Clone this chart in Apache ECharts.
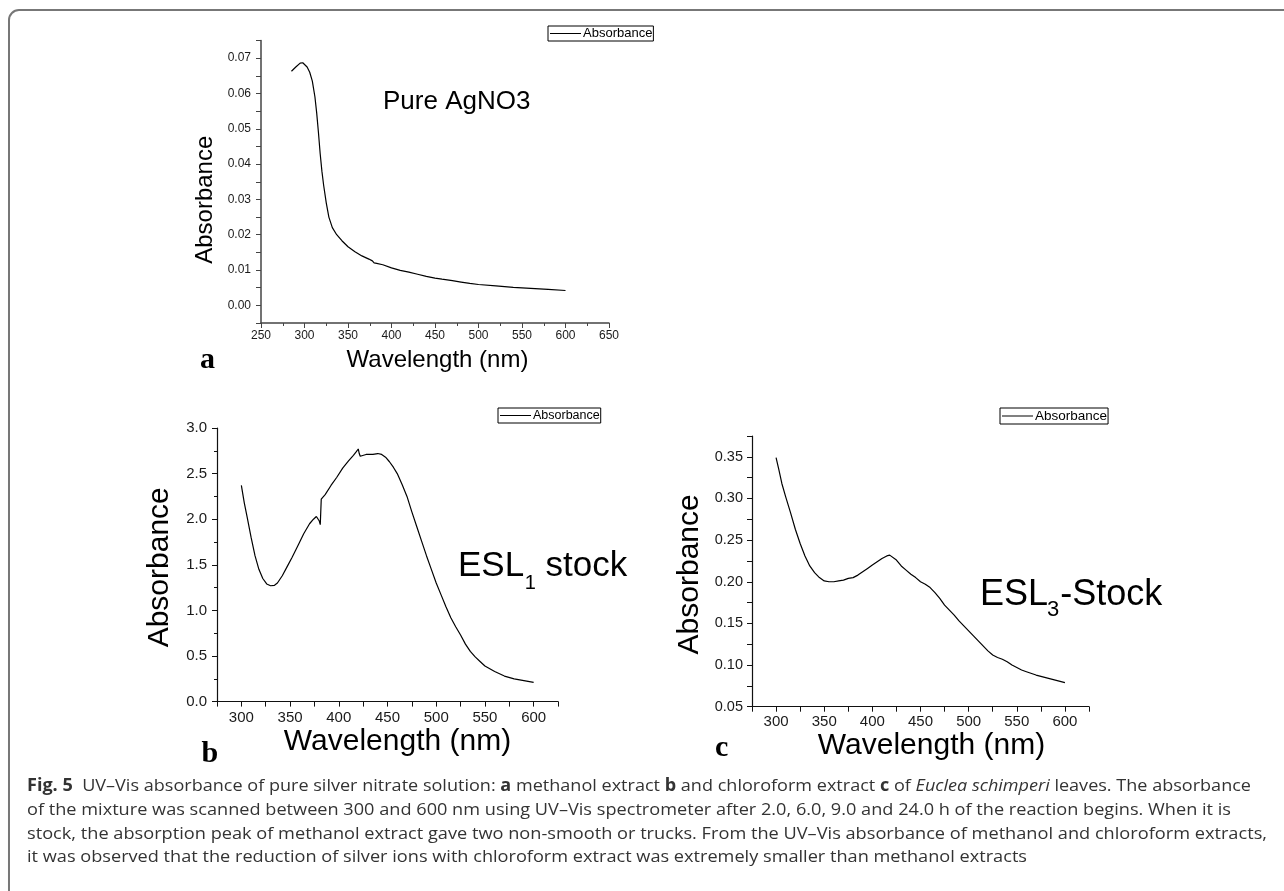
<!DOCTYPE html>
<html><head><meta charset="utf-8">
<script src="https://cdn.jsdelivr.net/npm/echarts@6/dist/echarts.min.js"></script>
<style>html,body{margin:0;padding:0;background:#fff}#c{width:1284px;height:891px}</style>
</head><body><div id="c"></div>
<script>
// ---------- DATA ----------
// Panel a: pure AgNO3
const wlA = [285,290,295,298,300,303,306,309,312,314,316,318,320,322,325,328,332,337,343,350,358,366,374,378,380,381,383,385,390,400,410,420,430,440,450,458,460,470,480,490,500,520,540,560,580,600];
const absA = [0.0663,0.0675,0.0686,0.0687,0.0684,0.0675,0.0660,0.0635,0.0590,0.0545,0.0490,0.0430,0.0380,0.0340,0.0290,0.0250,0.0220,0.0200,0.0183,0.0166,0.0152,0.0140,0.0131,0.0126,0.0120,0.0122,0.0119,0.0122,0.0115,0.0106,0.0099,0.0094,0.0088,0.0082,0.0077,0.0074,0.0075,0.0070,0.0066,0.0062,0.0059,0.0055,0.0051,0.0048,0.0045,0.0042];
// Panel b: ESL1 stock (methanol extract)
const wlB = [300,303,306,310,314,318,322,326,330,334,337,342,347,352,358,364,370,374,377,379,380,381,382,383,386,392,398,404,410,415,418,420,421,422,424,428,435,440,444,448,452,456,460,465,470,475,480,485,490,495,500,505,510,515,520,525,530,535,540,545,550,560,570,580,590,600];
const absB = [2.37,2.18,2.02,1.80,1.60,1.45,1.35,1.29,1.27,1.275,1.30,1.38,1.48,1.58,1.71,1.84,1.95,2.00,2.03,2.02,1.98,1.94,2.22,2.20,2.27,2.37,2.46,2.56,2.64,2.70,2.74,2.77,2.72,2.69,2.70,2.71,2.71,2.72,2.71,2.68,2.63,2.57,2.50,2.38,2.25,2.08,1.92,1.76,1.60,1.45,1.30,1.17,1.04,0.92,0.82,0.73,0.63,0.55,0.49,0.44,0.39,0.33,0.28,0.25,0.23,0.21];
// Panel c: ESL3-Stock (chloroform extract)
const wlC = [300,303,306,310,315,320,325,330,335,340,345,350,355,360,365,370,375,380,381,382,385,390,395,400,405,410,415,418,420,425,430,435,440,445,450,455,460,465,470,475,480,485,490,495,500,505,510,515,520,525,530,535,540,545,550,555,560,570,580,590,600];
const absC = [0.349,0.334,0.318,0.302,0.283,0.263,0.246,0.231,0.219,0.211,0.205,0.201,0.200,0.200,0.201,0.202,0.204,0.205,0.203,0.206,0.208,0.212,0.216,0.220,0.224,0.228,0.231,0.232,0.231,0.226,0.219,0.214,0.209,0.205,0.200,0.197,0.193,0.187,0.180,0.172,0.166,0.160,0.153,0.147,0.141,0.135,0.129,0.123,0.117,0.112,0.109,0.107,0.104,0.100,0.097,0.094,0.092,0.088,0.085,0.082,0.079];

const seriesName = 'Absorbance';
const xName = 'Wavelength (nm)';
const yName = 'Absorbance';
const panelLetters = ['a','b','c'];
const panelTitles = ['Pure AgNO3'];
const captionLines = [
  [['b','Fig. 5'],['n','  UV–Vis absorbance of pure silver nitrate solution: '],['b','a'],['n',' methanol extract '],['b','b'],['n',' and chloroform extract '],['b','c'],['n',' of '],['i','Euclea schimperi'],['n',' leaves. The absorbance']],
  [['n','of the mixture was scanned between 300 and 600 nm using UV–Vis spectrometer after 2.0, 6.0, 9.0 and 24.0 h of the reaction begins. When it is']],
  [['n','stock, the absorption peak of methanol extract gave two non-smooth or trucks. From the UV–Vis absorbance of methanol and chloroform extracts,']],
  [['n','it was observed that the reduction of silver ions with chloroform extract was extremely smaller than methanol extracts']]
];

// ---------- LAYOUT ----------
const SANS = 'Liberation Sans';
const SERIF = 'Liberation Serif';
const CAPF = 'Open Sans';
const ctx = document.createElement('canvas').getContext('2d');
function tw(text, font){ ctx.font = font; return ctx.measureText(text).width; }

const chart = echarts.init(document.getElementById('c'));

function near(v, step){ const r = v / step; return Math.abs(r - Math.round(r)) < 1e-6; }

function xAxis(gi, o){
  return {
    type:'value', gridIndex:gi, min:o.min, max:o.max, interval:o.interval,
    minorTick: o.minor ? {show:true, splitNumber:2, length:3, lineStyle:{color:o.color, width:1}} : {show:false},
    axisLine:{show:true, onZero:false, lineStyle:{color:o.color, width:o.lw}},
    axisTick:{show:true, inside:false, length:5, lineStyle:{color:o.color, width:1}},
    splitLine:{show:false},
    axisLabel:{fontFamily:SANS, fontSize:o.fs, color:'#1a1a1a', margin:o.margin,
      formatter: v => (o.labelStep && !near(v, o.labelStep)) ? '' : String(Math.round(v))},
    name:xName, nameLocation:'middle', nameGap:o.nameGap,
    nameTextStyle:{fontFamily:SANS, fontSize:o.nfs, color:'#000', padding:o.npad}
  };
}
function yAxis(gi, o){
  return {
    type:'value', gridIndex:gi, min:o.min, max:o.max, interval:o.interval,
    minorTick: o.minor ? {show:true, splitNumber:2, length:3, lineStyle:{color:o.color, width:1}} : {show:false},
    axisLine:{show:true, onZero:false, lineStyle:{color:o.color, width:o.lw}},
    axisTick:{show:true, inside:false, length:5, lineStyle:{color:o.color, width:1}},
    splitLine:{show:false},
    axisLabel:{fontFamily:SANS, fontSize:o.fs, color:'#1a1a1a', margin:o.margin,
      formatter: v => (o.labelStep && !near(v, o.labelStep)) ? '' : v.toFixed(o.dec)},
    name:yName, nameLocation:'middle', nameGap:o.nameGap,
    nameTextStyle:{fontFamily:SANS, fontSize:o.nfs, color:'#000', padding:o.npad}
  };
}
function legend(left, top, fs){
  return {left:left, top:top, data:[seriesName], orient:'horizontal',
    icon:'rect', itemWidth:31, itemHeight:1, itemGap:0, padding:[1,1,1,2],
    itemStyle:{color:'#000', borderWidth:0},
    borderColor:'#000', borderWidth:1, borderRadius:0, backgroundColor:'#fff',
    selectedMode:false,
    textStyle:{fontFamily:SANS, fontSize:fs, color:'#000', padding:[0,0,0,-3]}};
}
function series(gi, xs, ys){
  return {type:'line', name:seriesName, xAxisIndex:gi, yAxisIndex:gi,
    data: xs.map((x,i)=>[x, ys[i]]), symbol:'none', showSymbol:false,
    lineStyle:{color:'#000', width:1.2}, itemStyle:{color:'#000'}, animation:false, silent:true};
}

// graphic texts
const graphics = [];
graphics.push({type:'rect', shape:{x:9, y:10, width:1400, height:1000, r:10},
  style:{fill:'none', stroke:'#777', lineWidth:2}, silent:true});
function txt(x, y, text, font, size, opts){
  opts = opts || {};
  graphics.push({type:'text', x:x, y:y, silent:true, style:{
    text:text, fontFamily:font, fontSize:size, fontWeight:opts.weight||'normal',
    fill:opts.fill||'#000', align:'left', verticalAlign:'middle',
    textAlign:'left', textVerticalAlign:'middle'}});
}
// panel letters
txt(200, 360.5, panelLetters[0], SERIF, 30, {weight:'bold'});
txt(201.5, 754.5, panelLetters[1], SERIF, 30, {weight:'bold'});
txt(715, 748.5, panelLetters[2], SERIF, 30, {weight:'bold'});
// Pure AgNO3
txt(383, 101.5, panelTitles[0], SANS, 26);
// ESL1 stock
(function(){
  const x0 = 458, s1 = 35, s2 = 20;
  const w1 = tw('ESL', s1+'px '+SANS);
  const w2 = tw('1', s2+'px '+SANS);
  txt(x0, 566, 'ESL', SANS, s1);
  txt(x0 + w1 + 0.5, 583, '1', SANS, s2);
  txt(x0 + w1 + w2 + 0.5, 566, ' stock', SANS, s1);
})();
// ESL3-Stock
(function(){
  const x0 = 980, s1 = 36, s2 = 22;
  const w1 = tw('ESL', s1+'px '+SANS);
  const w2 = tw('3', s2+'px '+SANS);
  txt(x0, 595, 'ESL', SANS, s1);
  txt(x0 + w1 - 1, 610, '3', SANS, s2);
  txt(x0 + w1 + w2, 595, '-Stock', SANS, s1);
})();
// caption
(function(){
  const size = 17;
  const fonts = {n: size+'px "'+CAPF+'"', b: 'bold '+size+'px "'+CAPF+'"', i: 'italic '+size+'px "'+CAPF+'"'};
  const targets = [1251-27, 1231-27, 1267-27, 1027-27];
  const ys = [786, 810, 834, 857.5];
  const rich = {
    n:{fontFamily:CAPF, fontSize:size, fill:'#333'},
    b:{fontFamily:CAPF, fontSize:size, fontWeight:'bold', fill:'#333'},
    i:{fontFamily:CAPF, fontSize:size, fontStyle:'italic', fill:'#333'}
  };
  captionLines.forEach((segs, li) => {
    let w = 0;
    segs.forEach(([k,t]) => { w += tw(t, fonts[k]); });
    const sx = targets[li] / w;
    graphics.push({type:'text', x:27, y:ys[li], scaleX:sx, scaleY:1, silent:true, style:{
      text: segs.map(([k,t]) => '{'+k+'|'+t+'}').join(''), rich:rich,
      fontFamily:CAPF, fontSize:size, fill:'#333', align:'left', verticalAlign:'middle',
      textAlign:'left', textVerticalAlign:'middle'}});
  });
})();

const option = {
  animation:false,
  backgroundColor:'#fff',
  grid:[
    {left:261, top:40.5, width:348, height:282.5, containLabel:false},
    {left:217, top:428, width:341, height:273.6, containLabel:false},
    {left:752, top:436, width:337, height:270.7, containLabel:false}
  ],
  xAxis:[
    xAxis(0, {min:250, max:650, interval:50, minor:true, color:'#444', lw:1.5, fs:12, margin:7, nameGap:25, nfs:24, npad:[0,0,0,5]}),
    xAxis(1, {min:275, max:625, interval:25, labelStep:50, color:'#111', lw:1.2, fs:15, margin:9, nameGap:25.5, nfs:30, npad:[0,0,0,20]}),
    xAxis(2, {min:275, max:625, interval:25, labelStep:50, color:'#111', lw:1.2, fs:15, margin:7.5, nameGap:24, nfs:30, npad:[0,0,0,22]})
  ],
  yAxis:[
    yAxis(0, {min:-0.005, max:0.075, interval:0.005, labelStep:0.01, dec:2, color:'#444', lw:1.5, fs:12, margin:10, nameGap:44, nfs:24, npad:[0,36,0,0]}),
    yAxis(1, {min:0, max:3, interval:0.5, minor:true, dec:1, color:'#111', lw:1.2, fs:15, margin:10, nameGap:42.5, nfs:30, npad:[0,5,0,0]}),
    yAxis(2, {min:0.05, max:0.375, interval:0.025, labelStep:0.05, dec:2, color:'#111', lw:1.2, fs:14.5, margin:9, nameGap:47.5, nfs:30, npad:[0,6,0,0]})
  ],
  legend:[ legend(548, 26, 13), legend(498, 408, 12.5), legend(1000, 408, 13.5) ],
  series:[ series(0, wlA, absA), series(1, wlB, absB), series(2, wlC, absC) ],
  graphic:{elements:graphics}
};
chart.setOption(option);
</script></body></html>
